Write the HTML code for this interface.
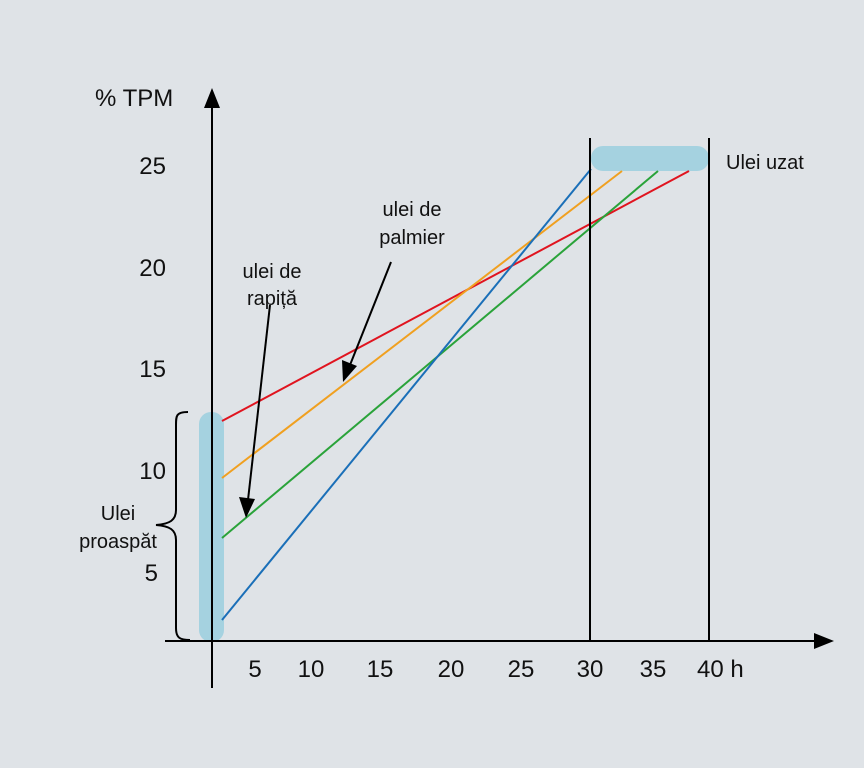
<!DOCTYPE html>
<html><head><style>body{margin:0;background:#dfe3e7}svg{display:block}text{font-family:"Liberation Sans",sans-serif;fill:#111}</style></head>
<body>
<svg width="864" height="768" viewBox="0 0 864 768">
<rect width="864" height="768" fill="#dfe3e7"/>
<rect x="199" y="412" width="25" height="230" rx="12" fill="#a5d2e0"/>
<rect x="591" y="146" width="118" height="25" rx="12" fill="#a5d2e0"/>
<g stroke-width="2" fill="none">
<line x1="222" y1="421" x2="689" y2="171" stroke="#e0141f"/>
<line x1="222" y1="478" x2="622" y2="171" stroke="#f0a020"/>
<line x1="222" y1="538" x2="658" y2="171" stroke="#2aa33a"/>
<line x1="222" y1="620" x2="591" y2="169" stroke="#1a6fb8"/>
</g>
<g stroke="#000" stroke-width="2" fill="none">
<line x1="212" y1="105" x2="212" y2="688"/>
<line x1="165" y1="641" x2="822" y2="641"/>
<line x1="590" y1="138" x2="590" y2="641"/>
<line x1="709" y1="138" x2="709" y2="641"/>
<line x1="391" y1="262" x2="350" y2="365"/>
<line x1="270" y1="305" x2="248" y2="500"/>
<path d="M188,412 C176,412 176,416 176,425 L176,510 C176,520 170,524 156,525 C170,526 176,530 176,540 L176,628 C176,638 180,640 190,640"/>
</g>
<polygon points="212,88 204,108 220,108" fill="#000"/>
<polygon points="834,641 814,633 814,649" fill="#000"/>
<polygon points="343,382 342,360 357,366" fill="#000"/>
<polygon points="246,518 239,497 255,499" fill="#000"/>
<g font-size="24" text-anchor="end">
<text x="166" y="174">25</text><text x="166" y="276">20</text><text x="166" y="377">15</text><text x="166" y="479">10</text><text x="158" y="581">5</text>
</g>
<g font-size="24" text-anchor="middle">
<text x="255" y="677">5</text><text x="311" y="677">10</text><text x="380" y="677">15</text><text x="451" y="677">20</text><text x="521" y="677">25</text><text x="590" y="677">30</text><text x="653" y="677">35</text>
</g>
<text x="697" y="677" font-size="24">40 h</text>
<text x="95" y="106" font-size="24">% TPM</text>
<text x="726" y="169" font-size="20">Ulei uzat</text>
<g font-size="20" text-anchor="middle">
<text x="412" y="216">ulei de</text><text x="412" y="244">palmier</text>
<text x="272" y="278">ulei de</text><text x="272" y="305">rapiță</text>
<text x="118" y="520">Ulei</text><text x="118" y="548">proaspăt</text>
</g>
</svg>
</body></html>
